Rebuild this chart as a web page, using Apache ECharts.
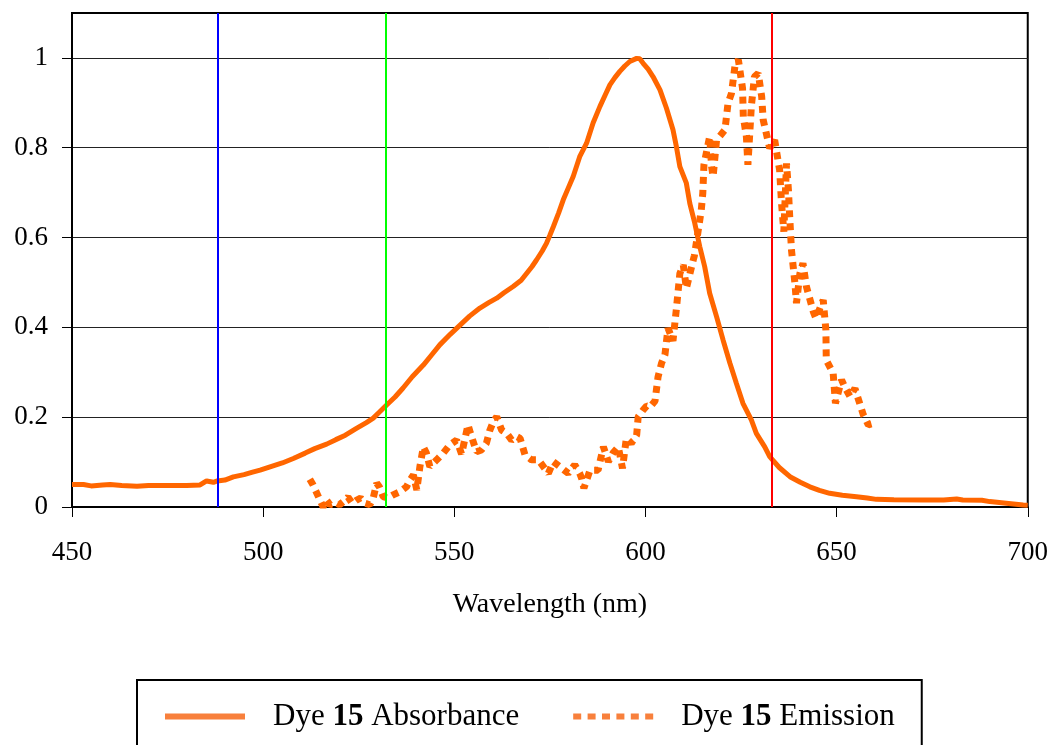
<!DOCTYPE html>
<html>
<head>
<meta charset="utf-8">
<script src="https://cdn.jsdelivr.net/npm/echarts@6/dist/echarts.min.js"></script>
<style>
html,body{margin:0;padding:0;background:#fff;}
#c{width:1051px;height:745px;}
</style>
</head>
<body>
<div id="c"></div>
<script>
// Absorbance (wavelength nm, normalized value)
const absWl = [450,453,455,458,460,463,467,470,475,480,483.5,485.2,487,488,490,492.2,495,497,499.2,502,505,507.9,511,513.5,516.6,519,521.5,524.4,527,528.8,530.5,532.3,534.5,536.6,539,541.9,544,546.2,549,551.5,554,556.7,559,561.1,563,565.4,567.5,568.9,570.3,571.5,573,574.1,575,575.9,577.3,578.5,579.8,581.1,582.8,584.6,586.3,588.1,589.5,590.7,592,593.3,594.6,595.9,597.7,598.5,599.4,600.7,602,603.8,605.5,607.2,608.1,609,610.7,611.6,612.9,614.2,615.5,616.8,618.6,620.3,622.1,623.8,625.5,627.7,629,631.2,632.5,635,637.8,640.5,643,645.5,648.2,651.5,655.2,658,660.4,665,672.6,678,681.4,683,688,690.1,695,698.8,700];
const absVal = [0.050,0.050,0.047,0.049,0.050,0.048,0.046,0.048,0.048,0.048,0.049,0.058,0.055,0.058,0.060,0.067,0.072,0.077,0.082,0.090,0.098,0.108,0.120,0.130,0.140,0.150,0.160,0.175,0.188,0.198,0.212,0.227,0.245,0.265,0.290,0.316,0.338,0.361,0.385,0.405,0.425,0.443,0.455,0.465,0.477,0.491,0.505,0.520,0.535,0.550,0.570,0.587,0.605,0.624,0.655,0.684,0.710,0.736,0.780,0.810,0.855,0.892,0.918,0.940,0.956,0.970,0.982,0.992,0.999,0.998,0.988,0.975,0.958,0.929,0.888,0.840,0.802,0.758,0.721,0.676,0.632,0.580,0.535,0.476,0.424,0.372,0.320,0.275,0.231,0.194,0.164,0.134,0.112,0.088,0.0675,0.055,0.045,0.037,0.0305,0.026,0.023,0.020,0.017,0.016,0.0156,0.0156,0.018,0.0156,0.015,0.012,0.008,0.0045,0.004];

// Emission (wavelength nm, normalized value)
const emWl = [512.2,513,515.7,516.6,517.5,519,520,521,522.2,523.3,524.4,525.5,526.7,527.9,528.8,529.7,530.4,531.4,532.5,534,535.8,537.5,538.4,539.3,540.2,541,541.9,542.7,543.6,545.4,547.1,548.8,550.6,551.9,553.6,554.2,555.8,557.1,558.4,559.3,560.2,561.1,562.4,563.7,565,566.3,567.2,568.5,570.2,572,573.3,574.6,575.9,577.6,579.8,581.5,582.8,583.3,583.9,585.5,587.6,589,590.3,591.5,592.9,594,595,596.3,597.7,598.1,599.4,600.3,601.2,602.5,603.3,604.2,605.1,605.9,607.2,608.1,609,609.9,610.7,612.5,612.8,613.7,614.6,615,615.3,616.8,617.3,617.7,618.6,620.8,621.6,622.5,623.4,624.3,625.4,625.6,626.4,626.8,627.7,628.5,629.5,630.4,630.8,632.5,633.8,635.1,635.6,636.2,636.9,637.4,637.8,638.2,639.1,639.5,640.4,641.2,642.1,643.9,644.6,646.5,647.2,647.3,649.1,649.7,651.3,652.1,653.5,654.8,657,658.3,659.6];
const emVal = [0.062,0.050,0.000,0.015,0.005,0.010,0.005,0.012,0.022,0.008,0.015,0.020,0.008,0.005,0.020,0.053,0.045,0.023,0.020,0.027,0.034,0.045,0.060,0.071,0.038,0.090,0.134,0.120,0.090,0.105,0.120,0.138,0.149,0.118,0.183,0.165,0.123,0.127,0.142,0.171,0.190,0.201,0.171,0.164,0.149,0.157,0.153,0.116,0.105,0.105,0.090,0.075,0.101,0.090,0.075,0.094,0.075,0.064,0.042,0.082,0.082,0.134,0.101,0.120,0.134,0.086,0.153,0.142,0.160,0.201,0.216,0.225,0.223,0.236,0.290,0.320,0.339,0.398,0.370,0.442,0.520,0.539,0.487,0.550,0.560,0.610,0.661,0.699,0.762,0.825,0.758,0.736,0.817,0.840,0.899,0.921,0.981,0.996,0.932,0.869,0.825,0.762,0.892,0.958,0.966,0.914,0.862,0.799,0.817,0.750,0.676,0.613,0.765,0.706,0.635,0.572,0.498,0.454,0.520,0.543,0.491,0.435,0.420,0.461,0.394,0.327,0.298,0.231,0.283,0.268,0.246,0.264,0.205,0.183,0.186];

// Laser lines (nm) and colours
const laserWl = [488, 532, 633];
const laserColors = ['#0000FF', '#00FF00', '#FF0000'];

const seriesNames = ['Dye 15 Absorbance', 'Dye 15 Emission'];
const xTicks = {min: 450, max: 700, interval: 50};
const yTickValues = [0, 0.2, 0.4, 0.6, 0.8, 1];
const yMax = 1.1;

const absData = absWl.map((w, i) => [w, absVal[i]]);
const emData = emWl.map((w, i) => [w, emVal[i]]);

const FONT = '"Liberation Serif", "Times New Roman", serif';
const ORANGE = '#FF6600';
const LEG_ORANGE = '#F8803C';

const chart = echarts.init(document.getElementById('c'), null, {renderer: 'canvas'});
chart.setOption({
  animation: false,
  backgroundColor: '#fff',
  grid: {left: 72, right: 23, top: 13, bottom: 238, show: true, borderColor: '#000', borderWidth: 2, backgroundColor: 'transparent'},
  xAxis: {
    type: 'value', min: xTicks.min, max: xTicks.max, interval: xTicks.interval,
    name: 'Wavelength (nm)', nameLocation: 'middle', nameGap: 84,
    nameTextStyle: {fontFamily: FONT, fontSize: 28, color: '#000'},
    axisLine: {show: true, onZero: false, lineStyle: {color: '#000', width: 2}},
    axisTick: {show: true, inside: false, length: 10, lineStyle: {color: '#000', width: 1}},
    axisLabel: {fontFamily: FONT, fontSize: 27, color: '#000', margin: 32},
    splitLine: {show: false}
  },
  yAxis: {
    type: 'value', min: 0, max: yMax, interval: 0.2,
    axisLine: {show: true, lineStyle: {color: '#000', width: 2}},
    axisTick: {show: true, inside: false, length: 10, lineStyle: {color: '#000', width: 1}, customValues: yTickValues},
    axisLabel: {fontFamily: FONT, fontSize: 27, color: '#000', margin: 24, customValues: yTickValues,
      formatter: v => String(Math.round(v * 10) / 10)},
    splitLine: {show: true, lineStyle: {color: '#222', width: 1}}
  },
  legend: {
    show: true, selectedMode: false,
    left: 137, top: 680, orient: 'horizontal',
    padding: [21, 27, 40, 28],
    borderColor: '#000', borderWidth: 2,
    itemWidth: 80, itemHeight: 6, itemGap: 54,
    data: [
      {name: seriesNames[0], icon: 'path://M0,0h80v6h-80z', itemStyle: {color: LEG_ORANGE}},
      {name: seriesNames[1], icon: 'path://M0,0h8v6h-8zM14.4,0h8v6h-8zM28.8,0h8v6h-8zM43.2,0h8v6h-8zM57.6,0h8v6h-8zM72,0h8v6h-8z', itemStyle: {color: LEG_ORANGE}}
    ],
    formatter: name => {
      const parts = name.split(' 15 ');
      return '{n|' + parts[0] + ' }{b|15}{n| ' + parts[1] + '}';
    },
    textStyle: {
      fontFamily: FONT, fontSize: 31, color: '#000', padding: [0, 0, 0, 23],
      rich: {
        n: {fontFamily: FONT, fontSize: 31, color: '#000'},
        b: {fontFamily: FONT, fontSize: 31, color: '#000', fontWeight: 'bold'}
      }
    }
  },
  series: [
    {
      name: seriesNames[0], type: 'line', data: absData, showSymbol: false, symbol: 'none',
      lineStyle: {color: ORANGE, width: 5},
      itemStyle: {color: ORANGE},
      z: 3,
      markLine: {
        silent: true, symbol: ['none', 'none'], animation: false,
        label: {show: false},
        data: laserWl.map((w, i) => ({xAxis: w, lineStyle: {color: laserColors[i], width: 2, type: 'solid'}}))
      }
    },
    {
      name: seriesNames[1], type: 'line', data: emData, showSymbol: false, symbol: 'none',
      lineStyle: {color: ORANGE, width: 7, type: [7, 6], cap: 'butt'},
      itemStyle: {color: ORANGE},
      z: 3
    }
  ]
});
</script>
</body>
</html>
